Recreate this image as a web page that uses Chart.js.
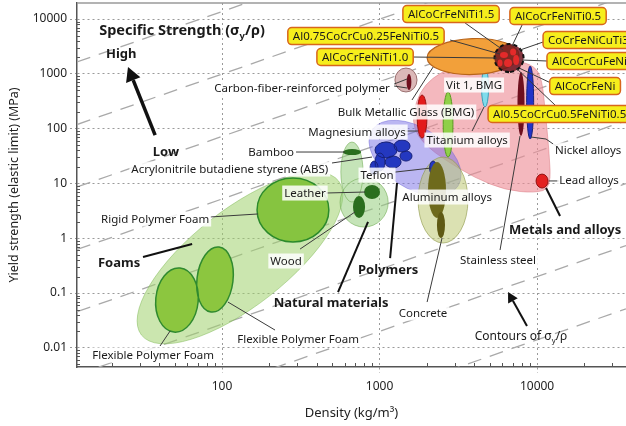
<!DOCTYPE html>
<html>
<head>
<meta charset="utf-8">
<script src="https://cdn.jsdelivr.net/npm/chart.js@4.4.0/dist/chart.umd.min.js"></script>
<style>
html, body { margin: 0; padding: 0; background: #fff; }
</style>
</head>
<body>
<canvas id="chart" width="626" height="426"></canvas>
<script>
// axes (density in kg/m3, yield strength in MPa)
var densityRange = [12, 36700];
var strengthRange = [0.00447, 19600];
var xTickLabels = ["100", "1000", "10000"];
var yTickLabels = ["0.01", "0.1", "1", "10", "100", "1000", "10000"];

// dashed contours, constant sigma_y / rho
var contourRatios = [137, 9.9, 0.72, 0.052, 0.0038, 0.00027, 0.00002, 0.0000014];

// regions: [name, density end 1, strength end 1, density end 2, strength end 2, width / length]
var envelopeRegions = [
    ["Foams", 30.8, 0.0171, 549, 11.1, 0.384],
    ["Natural materials", 668, 56.9, 668, 4.58, 0.37],
    ["Natural materials", 798, 12.6, 798, 1.6, 0.98]
];
// outline of metals and alloys [density, strength]
var metalsOutline = [
    [1633, 201], [1807, 466], [2153, 838], [2805, 1276], [4036, 1641], [7244, 1786],
    [9700, 1387], [10760, 771], [11250, 218], [11910, 40.7], [12270, 8.24], [9700, 6.68],
    [6266, 7.58], [4036, 12.6], [2606, 26.7], [1945, 50.2], [1656, 94.3]
];
var polymerRegions = [
    ["Polymers", 896, 94.3, 3150, 8.97, 0.59]
];
var ceramicRegions = [
    ["Aluminum envelope", 2529, 30.3, 2529, 0.817, 0.58]
];
var foamRegions = [
    ["Flexible Polymer Foam", 54.1, 0.286, 49.5, 0.0194, 0.66],
    ["Flexible Polymer Foam", 95.7, 0.69, 85.1, 0.045, 0.55],
    ["Rigid Polymer Foam", 282, 12.6, 282, 0.853, 1.12]
];
var naturalRegions = [
    ["Bamboo", 586, 37.4, 764, 37.4, 0.33],
    ["Leather", 896, 9.35, 896, 5.19, 1.14],
    ["Wood", 741, 5.89, 741, 2.34, 0.55]
];
var polymerCells = [
    ["ABS", 1099, 56.9, 1099, 29.1, 1.38],
    ["ABS", 1390, 61.9, 1390, 37.4, 1.33],
    ["ABS", 1472, 39.0, 1472, 25.6, 1.2],
    ["ABS", 1007, 35.9, 1007, 16.8, 0.55],
    ["ABS", 1219, 31.6, 1219, 19.1, 1.33],
    ["ABS", 923, 25.6, 923, 14.2, 0.57],
    ["Teflon", 2188, 25.6, 2188, 14.2, 0.5]
];
var ceramicCells = [
    ["Aluminum alloys", 2317, 24.6, 2317, 2.34, 0.32],
    ["Concrete", 2455, 3.01, 2455, 1.01, 0.31]
];
var metalCells = [
    ["Carbon-fiber-reinforced polymer", 1472, 1276, 1472, 466, 0.92],
    ["CFRP core", 1538, 991, 1538, 506, 0.3],
    ["Bulk Metallic Glass", 1862, 410, 1862, 67.3, 0.23],
    ["Titanium alloys", 2723, 466, 2723, 30.3, 0.15],
    ["Vit 1", 4677, 1276, 4677, 248, 0.18],
    ["Stainless steel", 7907, 1079, 7907, 73.3, 0.11],
    ["Nickel alloys", 9040, 1387, 9040, 64.6, 0.096],
    ["Lead alloys", 10760, 14.8, 10760, 8.24, 0.86]
];
var hea = [
    ["HEA range", 2004, 1942, 7690, 2203, 0.39],
    ["HEA cluster", 6637, 3497, 6637, 1079, 1.04],
    ["HEA", 6166, 2500, 6166, 1942, 1.33],
    ["HEA", 7046, 2897, 7046, 2158, 0.86],
    ["HEA", 6544, 1862, 6544, 1330, 1.0],
    ["HEA", 7362, 2203, 7362, 1448, 0.6],
    ["HEA", 5821, 1823, 5821, 1359, 0.7]
];

// text: [text, density, strength]
var plainLabels = [
    ["Carbon-fiber-reinforced polymer", 322, 551],
    ["Bamboo", 205, 37.4],
    ["Acrylonitrile butadiene styrene (ABS)", 112, 18.3],
    ["Magnesium alloys", 719, 86.7],
    ["Bulk Metallic Glass (BMG)", 1472, 201],
    ["Titanium alloys", 3597, 61.9],
    ["Vit 1, BMG", 3981, 625],
    ["Teflon", 964, 14.2],
    ["Leather", 336, 6.68],
    ["Rigid Polymer Foam", 37.6, 2.24],
    ["Wood", 255, 0.384],
    ["Aluminum alloys", 2685, 5.65],
    ["Concrete", 1888, 0.0432],
    ["Stainless steel", 5649, 0.400],
    ["Lead alloys", 21380, 11.5],
    ["Nickel alloys", 21090, 40.7],
    ["Flexible Polymer Foam", 36.5, 0.0074],
    ["Flexible Polymer Foam", 304, 0.0145]
];
var boldLabels = [
    ["High", 22.9, 2296],
    ["Low", 44.0, 37.4],
    ["Foams", 22.2, 0.352],
    ["Natural materials", 492, 0.0657],
    ["Polymers", 1133, 0.263],
    ["Metals and alloys", 15070, 1.41]
];
// [text, density, strength, anchor]
var alloyLabels = [
    ["AlCoCrFeNiTi1.5", 2844, 12330, "center"],
    ["AlCoCrFeNiTi0.5", 13590, 11350, "center"],
    ["Al0.75CoCrCu0.25FeNiTi0.5", 820, 4894, "center"],
    ["AlCoCrFeNiTi1.0", 809, 2027, "center"],
    ["CoCrFeNiCuTi3", 10920, 4140, "left"],
    ["AlCoCrCuFeNi", 11560, 1713, "left"],
    ["AlCoCrFeNi", 20180, 599, "center"],
    ["Al0.5CoCrCu0.5FeNiTi0.5", 4887, 185, "left"]
];
var thinLeaders = [
    [[1237, 651], [1495, 804]], [[1237, 599], [1495, 551]],
    [[295, 37.4], [604, 37.4]],
    [[499, 23.6], [896, 30.3]],
    [[1431, 90.4], [1754, 90.4]],
    [[3866, 90.4], [4605, 248]],
    [[1254, 16.1], [2125, 19.1]],
    [[457, 6.68], [809, 6.97]],
    [[83.9, 2.44], [169, 2.77]],
    [[313, 0.635], [698, 3.01]],
    [[2004, 0.0685], [2493, 1.01]],
    [[5821, 0.609], [7798, 73.3]],
    [[11910, 11.1], [13800, 11.1]],
    [[9162, 70.3], [11400, 64.6], [13210, 48.1]],
    [[40.4, 0.0108], [46.8, 0.0203]],
    [[217, 0.0211], [109, 0.0685]],
    [[3494, 8455], [6081, 2718]],
    [[8035, 7780], [6933, 3215]],
    [[2805, 4140], [5821, 2296]],
    [[1607, 2027], [5572, 1942]],
    [[10920, 3802], [7798, 2718]],
    [[11560, 1713], [8035, 1786]],
    [[12640, 651], [7690, 1276]],
    [[13210, 258], [7362, 1276]],
    [[2188, 1330], [1607, 333]]
];
var boldLeaders = [
    [[31.5, 0.454], [64.6, 0.784]],
    [[545, 0.104], [845, 1.98]],
    [[1167, 0.435], [1291, 10.2]],
    [[13990, 2.54], [11400, 8.24]]
];

var FONT = "'Noto Sans', 'DejaVu Sans', sans-serif";

var regionStyle = {
    "Foams": { fill: "rgba(160,210,110,0.55)", stroke: "rgba(130,185,90,0.5)" },
    "Natural materials": { fill: "rgba(150,205,125,0.55)", stroke: "rgba(110,170,80,0.55)" },
    "Metals": { fill: "rgba(238,140,150,0.62)", stroke: "rgba(215,110,120,0.45)" },
    "Polymers": { fill: "rgba(120,110,230,0.5)", stroke: "rgba(100,90,210,0.4)" },
    "Aluminum envelope": { fill: "rgba(190,200,115,0.55)", stroke: "rgba(140,150,70,0.6)" },
    "Flexible Polymer Foam": { fill: "#8cc63f", stroke: "#2f8a2f", width: 1.5 },
    "Rigid Polymer Foam": { fill: "#86c440", stroke: "#2b8a2b", width: 1.5 },
    "Bamboo": { fill: "#2a6e1e" },
    "Leather": { fill: "#2a6e1e" },
    "Wood": { fill: "#2a6e1e" },
    "ABS": { fill: "#2438c0", stroke: "#17217a" },
    "Teflon": { fill: "#2438c0", stroke: "#17217a" },
    "Aluminum alloys": { fill: "#6e6a1c" },
    "Concrete": { fill: "#5f5a14" },
    "Carbon-fiber-reinforced polymer": { fill: "#dbb8b8", stroke: "#9a7070" },
    "CFRP core": { fill: "#6e0f1e" },
    "Bulk Metallic Glass": { fill: "#e31b1b", stroke: "#9a1010" },
    "Titanium alloys": { fill: "#90d048", stroke: "#5a9a20" },
    "Vit 1": { fill: "#80dcec", stroke: "#3aa0b8" },
    "Stainless steel": { fill: "#6e0f1e" },
    "Nickel alloys": { fill: "#2233c8", stroke: "#16207a" },
    "Lead alloys": { fill: "#e32020", stroke: "#901010" },
    "HEA range": { fill: "#f2a03a", stroke: "#b8641a", width: 1.2 },
    "HEA cluster": { fill: "rgba(110,20,30,0.85)", stroke: "#111", width: 2, dash: [4, 3] },
    "HEA": { fill: "#e42a2a" }
};

function P(chart, d, s) {
    return [chart.scales.x.getPixelForValue(d), chart.scales.y.getPixelForValue(s)];
}

function shapePath(ctx, chart, r) {
    var p1 = P(chart, r[1], r[2]), p2 = P(chart, r[3], r[4]);
    var half = Math.hypot(p2[0] - p1[0], p2[1] - p1[1]) / 2;
    var cx = (p1[0] + p2[0]) / 2, cy = (p1[1] + p2[1]) / 2;
    var ang = Math.atan2(p2[1] - p1[1], p2[0] - p1[0]);
    ctx.moveTo(cx + half * Math.cos(ang), cy + half * Math.sin(ang));
    ctx.ellipse(cx, cy, half, half * r[5], ang, 0, Math.PI * 2);
}

function paint(ctx, st) {
    ctx.fillStyle = st.fill;
    ctx.fill();
    if (st.stroke) {
        ctx.lineWidth = st.width || 1;
        ctx.strokeStyle = st.stroke;
        ctx.setLineDash(st.dash || []);
        ctx.stroke();
        ctx.setLineDash([]);
    }
}

function drawRegions(ctx, chart, list) {
    var i = 0;
    while (i < list.length) {
        var name = list[i][0];
        ctx.beginPath();
        while (i < list.length && list[i][0] === name) {
            shapePath(ctx, chart, list[i]);
            i++;
        }
        paint(ctx, regionStyle[name]);
    }
}

function drawOutline(ctx, chart, pts, st) {
    var q = pts.map(function(p) { return P(chart, p[0], p[1]); });
    var n = q.length;
    function mid(a, b) { return [(a[0] + b[0]) / 2, (a[1] + b[1]) / 2]; }
    var m = mid(q[n - 1], q[0]);
    ctx.beginPath();
    ctx.moveTo(m[0], m[1]);
    for (var i = 0; i < n; i++) {
        var nm = mid(q[i], q[(i + 1) % n]);
        ctx.quadraticCurveTo(q[i][0], q[i][1], nm[0], nm[1]);
    }
    ctx.closePath();
    paint(ctx, st);
}

function polyline(ctx, chart, pts, width, color) {
    ctx.beginPath();
    pts.forEach(function(p, i) {
        var q = P(chart, p[0], p[1]);
        if (i === 0) ctx.moveTo(q[0], q[1]); else ctx.lineTo(q[0], q[1]);
    });
    ctx.lineWidth = width;
    ctx.strokeStyle = color;
    ctx.stroke();
}

function arrow(ctx, chart, from, to, width, head) {
    var a = P(chart, from[0], from[1]), b = P(chart, to[0], to[1]);
    var ang = Math.atan2(b[1] - a[1], b[0] - a[0]);
    var bx = b[0] - head * Math.cos(ang), by = b[1] - head * Math.sin(ang);
    ctx.strokeStyle = "#111";
    ctx.lineWidth = width;
    ctx.beginPath();
    ctx.moveTo(a[0], a[1]);
    ctx.lineTo(bx, by);
    ctx.stroke();
    ctx.fillStyle = "#111";
    ctx.beginPath();
    ctx.moveTo(b[0], b[1]);
    ctx.lineTo(bx + head * 0.55 * Math.sin(ang), by - head * 0.55 * Math.cos(ang));
    ctx.lineTo(bx - head * 0.55 * Math.sin(ang), by + head * 0.55 * Math.cos(ang));
    ctx.closePath();
    ctx.fill();
}

function roundBox(ctx, x, y, w, h, r) {
    ctx.beginPath();
    ctx.moveTo(x + r, y);
    ctx.arcTo(x + w, y, x + w, y + h, r);
    ctx.arcTo(x + w, y + h, x, y + h, r);
    ctx.arcTo(x, y + h, x, y, r);
    ctx.arcTo(x, y, x + w, y, r);
    ctx.closePath();
}

function text(ctx, chart, t, d, s, font, align, bg) {
    var q = P(chart, d, s);
    ctx.font = font;
    var w = ctx.measureText(t).width;
    var left = align === "left" ? q[0] : q[0] - w / 2;
    if (bg) {
        ctx.fillStyle = bg;
        ctx.fillRect(left - 2, q[1] - 7.5, w + 4, 15);
    }
    ctx.fillStyle = "#1a1a1a";
    ctx.textAlign = "left";
    ctx.textBaseline = "middle";
    ctx.fillText(t, left, q[1] + 0.5);
}

function alloyText(ctx, chart, item) {
    var q = P(chart, item[1], item[2]);
    ctx.font = "11.5px " + FONT;
    var w = ctx.measureText(item[0]).width + 10;
    var left = item[3] === "left" ? q[0] : q[0] - w / 2;
    roundBox(ctx, left, q[1] - 8.5, w, 17, 4);
    ctx.fillStyle = "#f6ee1c";
    ctx.fill();
    ctx.lineWidth = 1.5;
    ctx.strokeStyle = "#d8661c";
    ctx.stroke();
    ctx.fillStyle = "#1a1a1a";
    ctx.textAlign = "left";
    ctx.textBaseline = "middle";
    ctx.fillText(item[0], left + 5, q[1] + 0.5);
}

function subText(ctx, chart, parts, d, s, size, bold) {
    var q = P(chart, d, s);
    function f(z) { return (bold ? "bold " : "") + z + "px " + FONT; }
    var w = 0;
    parts.forEach(function(p) { ctx.font = f(p[1] ? size * 0.65 : size); w += ctx.measureText(p[0]).width; });
    var x = q[0] - w / 2;
    ctx.fillStyle = "#1a1a1a";
    ctx.textAlign = "left";
    ctx.textBaseline = "alphabetic";
    parts.forEach(function(p) {
        ctx.font = f(p[1] ? size * 0.65 : size);
        ctx.fillText(p[0], x, q[1] + size * 0.36 + (p[1] ? size * 0.25 : 0));
        x += ctx.measureText(p[0]).width;
    });
}

var materialsPlugin = {
    id: "materials",
    afterDatasetsDraw: function(chart) {
        var ctx = chart.ctx, area = chart.chartArea;
        var sx = chart.scales.x, sy = chart.scales.y;
        ctx.save();
        ctx.beginPath();
        ctx.rect(area.left, area.top, area.right - area.left, area.bottom - area.top);
        ctx.clip();

        drawRegions(ctx, chart, envelopeRegions);
        drawOutline(ctx, chart, metalsOutline, regionStyle.Metals);
        drawRegions(ctx, chart, polymerRegions);
        drawRegions(ctx, chart, ceramicRegions);
        drawRegions(ctx, chart, foamRegions);
        drawRegions(ctx, chart, naturalRegions);
        drawRegions(ctx, chart, polymerCells);
        drawRegions(ctx, chart, ceramicCells);
        drawRegions(ctx, chart, metalCells);
        drawRegions(ctx, chart, hea);

        thinLeaders.forEach(function(l) { polyline(ctx, chart, l, 1, "#3a3a3a"); });
        boldLeaders.forEach(function(l) { polyline(ctx, chart, l, 2, "#111"); });
        arrow(ctx, chart, [37.6, 76.4], [25.3, 1330], 3.5, 14);
        arrow(ctx, chart, [8630, 0.025], [6544, 0.104], 2, 10);

        plainLabels.forEach(function(l) {
            text(ctx, chart, l[0], l[1], l[2], "11.5px " + FONT, "center", "rgba(255,255,255,0.85)");
        });
        boldLabels.forEach(function(l) {
            text(ctx, chart, l[0], l[1], l[2], "bold 13px " + FONT, "center", null);
        });
        alloyLabels.forEach(function(l) { alloyText(ctx, chart, l); });
        subText(ctx, chart, [["Specific Strength (\u03c3", 0], ["y", 1], ["/\u03c1)", 0]], 55.7, 6300, 14.5, true);
        subText(ctx, chart, [["Contours of \u03c3", 0], ["y", 1], ["/\u03c1", 0]], 7907, 0.0164, 12, false);
        ctx.restore();

        // frame top and minor ticks
        ctx.save();
        ctx.strokeStyle = "#9a9a9a";
        ctx.lineWidth = 1.5;
        ctx.beginPath();
        ctx.moveTo(area.left, area.top);
        ctx.lineTo(area.right, area.top);
        ctx.stroke();
        ctx.strokeStyle = "#555";
        ctx.lineWidth = 1;
        ctx.beginPath();
        for (var e = 1; e <= 4; e++) {
            for (var m = 2; m <= 9; m++) {
                var v = m * Math.pow(10, e);
                if (v < densityRange[0] || v > densityRange[1]) continue;
                var x = Math.round(sx.getPixelForValue(v)) + 0.5;
                ctx.moveTo(x, area.bottom);
                ctx.lineTo(x, area.bottom - 4);
            }
        }
        for (var e2 = -3; e2 <= 4; e2++) {
            for (var m2 = 2; m2 <= 9; m2++) {
                var w = m2 * Math.pow(10, e2);
                if (w < strengthRange[0] || w > strengthRange[1]) continue;
                var y = Math.round(sy.getPixelForValue(w)) + 0.5;
                ctx.moveTo(area.left, y);
                ctx.lineTo(area.left + 3, y);
            }
        }
        ctx.stroke();
        ctx.restore();
    }
};

var contourSets = contourRatios.map(function(k) {
    return {
        label: "\u03c3y/\u03c1 = " + k,
        data: densityRange.map(function(d) { return { x: d, y: k * d }; }),
        showLine: true,
        borderColor: "#a9a9a9",
        borderWidth: 1.3,
        borderDash: [14, 9],
        pointRadius: 0,
        fill: false
    };
});

new Chart(document.getElementById("chart"), {
    type: "scatter",
    data: { datasets: contourSets },
    options: {
        responsive: false,
        animation: false,
        devicePixelRatio: 1,
        layout: { padding: { top: 3, right: 0, bottom: 0, left: 0 } },
        plugins: { legend: { display: false }, tooltip: { enabled: false } },
        scales: {
            x: {
                type: "logarithmic",
                min: densityRange[0],
                max: densityRange[1],
                afterBuildTicks: function(s) { s.ticks = xTickLabels.map(function(t) { return { value: Number(t) }; }); },
                afterFit: function(s) { s.height = 59; s.paddingLeft = 0; s.paddingRight = 0; },
                ticks: {
                    autoSkip: false, maxRotation: 0, padding: 6, color: "#222",
                    font: { family: FONT, size: 12 },
                    callback: function(v, i) { return xTickLabels[i]; }
                },
                grid: { color: "#9a9a9a", tickLength: 6, tickColor: "#9a9a9a", tickBorderDash: [2, 3] },
                border: { color: "#555", width: 1.5, dash: [2, 3] },
                title: {
                    display: true, text: "Density (kg/m\u00b3)", color: "#222",
                    font: { family: FONT, size: 13 }, padding: { top: 0, bottom: 5 }
                }
            },
            y: {
                type: "logarithmic",
                min: strengthRange[0],
                max: strengthRange[1],
                afterBuildTicks: function(s) { s.ticks = yTickLabels.map(function(t) { return { value: Number(t) }; }); },
                afterFit: function(s) { s.width = 77; s.paddingTop = 0; s.paddingBottom = 0; },
                ticks: {
                    autoSkip: false, padding: 3, color: "#222",
                    font: { family: FONT, size: 12 },
                    callback: function(v, i) { return yTickLabels[i]; }
                },
                grid: { color: "#9a9a9a", tickLength: 7, tickColor: "#9a9a9a", tickBorderDash: [2, 3] },
                border: { color: "#555", width: 1.5, dash: [2, 3] },
                title: {
                    display: true, text: "Yield strength (elastic limit) (MPa)", color: "#222",
                    font: { family: FONT, size: 12.5 }, padding: { top: 7, bottom: 0 }
                }
            }
        }
    },
    plugins: [materialsPlugin]
});
</script>
</body>
</html>
